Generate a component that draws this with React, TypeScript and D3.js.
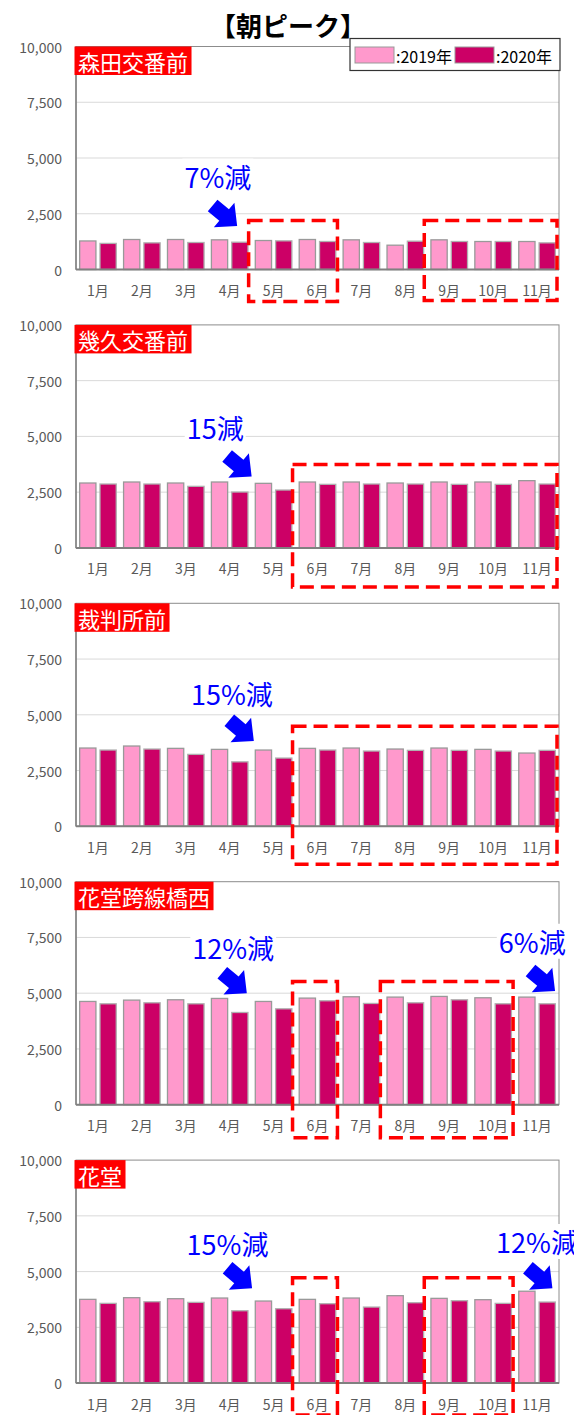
import React, { useEffect, useRef } from "react";
import * as d3 from "d3";

const months = ["1月", "2月", "3月", "4月", "5月", "6月", "7月", "8月", "9月", "10月", "11月"];
const seriesNames = ["2019年", "2020年"];
const yTicks = [0, 2500, 5000, 7500, 10000];
const stations = ["森田交番前", "幾久交番前", "裁判所前", "花堂跨線橋西", "花堂"];

const morita2019 = [1280, 1345, 1345, 1330, 1300, 1345, 1330, 1090, 1330, 1255, 1255];
const morita2020 = [1170, 1195, 1210, 1225, 1285, 1255, 1210, 1270, 1255, 1255, 1195];
const ikuhisa2019 = [2910, 2955, 2910, 2955, 2895, 2955, 2955, 2910, 2955, 2955, 3015];
const ikuhisa2020 = [2865, 2865, 2760, 2505, 2595, 2850, 2865, 2865, 2850, 2850, 2865];
const saibansho2019 = [3510, 3600, 3495, 3450, 3420, 3495, 3510, 3465, 3510, 3450, 3285];
const saibansho2020 = [3420, 3465, 3225, 2890, 3060, 3420, 3375, 3405, 3405, 3375, 3405];
const hanadoWest2019 = [4630, 4690, 4705, 4765, 4630, 4780, 4840, 4825, 4855, 4795, 4825];
const hanadoWest2020 = [4525, 4570, 4525, 4135, 4300, 4660, 4540, 4570, 4705, 4525, 4525];
const hanado2019 = [3755, 3830, 3785, 3815, 3680, 3755, 3815, 3920, 3800, 3740, 4120];
const hanado2020 = [3575, 3650, 3620, 3245, 3335, 3560, 3410, 3605, 3695, 3575, 3635];

const values2019 = [morita2019, ikuhisa2019, saibansho2019, hanadoWest2019, hanado2019];
const values2020 = [morita2020, ikuhisa2020, saibansho2020, hanadoWest2020, hanado2020];

// annotations: callout texts, arrows (tip at fractional month position / value), dashed boxes
const callouts = [
  [{ text: "7%減", at: 3.23, v: 4190 }],
  [{ text: "15減", at: 3.17, v: 5400 }],
  [{ text: "15%減", at: 3.55, v: 5950 }],
  [{ text: "12%減", at: 3.58, v: 7060 }, { text: "6%減", at: 10.39, v: 7330 }],
  [{ text: "15%減", at: 3.45, v: 6260 }, { text: "12%減", at: 10.5, v: 6350 }],
];
const arrows = [
  [{ at: 3.67, v: 1950 }],
  [{ at: 4.0, v: 3200 }],
  [{ at: 4.05, v: 3830 }],
  [{ at: 3.89, v: 5000 }, { at: 10.91, v: 5100 }],
  [{ at: 4.01, v: 4250 }, { at: 10.85, v: 4250 }],
];
const boxes = [
  [{ from: "5月", to: "6月", top: 2200, below: 32 }, { from: "9月", to: "11月", top: 2200, below: 31 }],
  [{ from: "6月", to: "11月", top: 3740, below: 39 }],
  [{ from: "6月", to: "11月", top: 4490, below: 38 }],
  [{ from: "6月", to: "6月", top: 5520, below: 33 }, { from: "8月", to: "10月", top: 5520, below: 33 }],
  [{ from: "6月", to: "6月", top: 4720, below: 32 }, { from: "9月", to: "10月", top: 4720, below: 32 }],
];

const FONT = "'Noto Sans CJK JP', 'Noto Sans', sans-serif";
const W = 574;
const H = 1415;
const LEFT = 76;
const RIGHT = 559;
const PANEL_TOP0 = 46.5;
const PANEL_STEP = 278.4;
const PANEL_H = 223;
const COLORS = ["#FF99CC", "#CC0066"];

export default function App() {
  const ref = useRef<SVGSVGElement | null>(null);

  useEffect(() => {
    const svg = d3.select(ref.current);
    svg.selectAll("*").remove();
    svg.append("rect").attr("width", W).attr("height", H).attr("fill", "#fff");

    const x = d3.scaleBand<string>().domain(months).range([LEFT, RIGHT]).padding(0);
    const xs = d3
      .scaleBand<string>()
      .domain(seriesNames)
      .range([0, x.bandwidth()])
      .paddingInner(0.2)
      .paddingOuter(0.18);
    const pos = d3.scaleLinear().domain([0, months.length]).range([LEFT, RIGHT]);

    stations.forEach((name, i) => {
      const top = PANEL_TOP0 + PANEL_STEP * i;
      const bottom = top + PANEL_H;
      const y = d3.scaleLinear().domain([0, 10000]).range([bottom, top]);
      const g = svg.append("g");

      // gridlines
      g.selectAll("line.grid")
        .data(yTicks.filter((t) => t > 0 && t < 10000))
        .join("line")
        .attr("x1", LEFT)
        .attr("x2", RIGHT)
        .attr("y1", (d) => y(d))
        .attr("y2", (d) => y(d))
        .attr("stroke", "#d9d9d9")
        .attr("stroke-width", 1);

      // plot border
      g.append("rect")
        .attr("x", LEFT)
        .attr("y", top)
        .attr("width", RIGHT - LEFT)
        .attr("height", PANEL_H)
        .attr("fill", "none")
        .attr("stroke", "#8c8c8c")
        .attr("stroke-width", 1);

      // bars
      const rows = months.map((m, k) => ({ m, vals: [values2019[i][k], values2020[i][k]] }));
      rows.forEach((r) => {
        r.vals.forEach((v, s) => {
          g.append("rect")
            .attr("x", (x(r.m) as number) + (xs(seriesNames[s]) as number))
            .attr("y", y(v))
            .attr("width", xs.bandwidth())
            .attr("height", bottom - y(v))
            .attr("fill", COLORS[s])
            .attr("stroke", s === 0 ? "#999" : "#b0b0b0")
            .attr("stroke-width", 1.3);
        });
      });

      // axes lines
      g.append("line")
        .attr("x1", LEFT)
        .attr("x2", LEFT)
        .attr("y1", top)
        .attr("y2", bottom)
        .attr("stroke", "#808080")
        .attr("stroke-width", 1.5);
      g.append("line")
        .attr("x1", LEFT)
        .attr("x2", RIGHT)
        .attr("y1", bottom)
        .attr("y2", bottom)
        .attr("stroke", "#808080")
        .attr("stroke-width", 2);

      // y tick labels
      const fmt = d3.format(",");
      g.selectAll("text.yt")
        .data(yTicks)
        .join("text")
        .attr("x", 62)
        .attr("y", (d) => y(d))
        .attr("text-anchor", "end")
        .attr("dominant-baseline", "central")
        .attr("font-family", FONT)
        .attr("font-size", 14)
        .attr("fill", "#595959")
        .text((d) => fmt(d));

      // month labels
      g.selectAll("text.xt")
        .data(months)
        .join("text")
        .attr("x", (d) => (x(d) as number) + x.bandwidth() / 2)
        .attr("y", bottom + 20.5)
        .attr("text-anchor", "middle")
        .attr("dominant-baseline", "central")
        .attr("font-family", FONT)
        .attr("font-size", 14)
        .attr("fill", "#595959")
        .text((d) => d);

      // station label
      const lbl = g.append("g");
      const lr = lbl.append("rect").attr("fill", "#FF0000");
      const lt = lbl
        .append("text")
        .attr("x", LEFT + 2)
        .attr("y", top + 14.5)
        .attr("dominant-baseline", "central")
        .attr("font-family", FONT)
        .attr("font-size", 22)
        .attr("fill", "#fff")
        .text(name);
      const lb = (lt.node() as SVGTextElement).getBBox();
      lr.attr("x", LEFT - 1.5)
        .attr("y", top)
        .attr("width", lb.width + 7)
        .attr("height", 28.5);

      // callouts
      callouts[i].forEach((c) => {
        const cg = g.append("g");
        const bg = cg.append("rect").attr("fill", "#fff");
        const t = cg
          .append("text")
          .attr("x", pos(c.at))
          .attr("y", y(c.v))
          .attr("text-anchor", "middle")
          .attr("dominant-baseline", "central")
          .attr("font-family", FONT)
          .attr("font-size", 27)
          .attr("fill", "#0000FF")
          .text(c.text);
        const b = (t.node() as SVGTextElement).getBBox();
        bg.attr("x", b.x - 2)
          .attr("y", b.y + 2)
          .attr("width", b.width + 4)
          .attr("height", b.height - 4);
      });

      // arrows
      const arrowPts: [number, number][] = [
        [0, 0],
        [-17, 16],
        [-17, 7.5],
        [-32, 7.5],
        [-32, -7.5],
        [-17, -7.5],
        [-17, -16],
      ];
      arrows[i].forEach((a) => {
        g.append("path")
          .attr("d", (d3.line()(arrowPts) as string) + "Z")
          .attr("transform", `translate(${pos(a.at)},${y(a.v)}) rotate(40)`)
          .attr("fill", "#0000FF");
      });

      // dashed boxes
      boxes[i].forEach((bx) => {
        const x0 = (x(bx.from) as number) - 3;
        const x1 = (x(bx.to) as number) + x.bandwidth() - 2;
        const y0 = y(bx.top);
        const y1 = bottom + bx.below;
        g.append("rect")
          .attr("x", x0)
          .attr("y", y0)
          .attr("width", x1 - x0)
          .attr("height", y1 - y0)
          .attr("fill", "none")
          .attr("stroke", "#FF0000")
          .attr("stroke-width", 3.5)
          .attr("stroke-dasharray", "14,7");
      });
    });

    // legend
    const lg = svg.append("g");
    lg.append("rect")
      .attr("x", 350)
      .attr("y", 38.5)
      .attr("width", 210)
      .attr("height", 32)
      .attr("fill", "#fff")
      .attr("stroke", "#333")
      .attr("stroke-width", 1.2);
    const legX = [355, 455];
    seriesNames.forEach((s, k) => {
      lg.append("rect")
        .attr("x", legX[k])
        .attr("y", 47)
        .attr("width", 39)
        .attr("height", 16)
        .attr("fill", COLORS[k])
        .attr("stroke", "#999")
        .attr("stroke-width", 1);
      lg.append("text")
        .attr("x", legX[k] + 41)
        .attr("y", 55.5)
        .attr("dominant-baseline", "central")
        .attr("font-family", FONT)
        .attr("font-size", 16)
        .attr("fill", "#000")
        .text(":" + s);
    });

    // title
    svg
      .append("text")
      .attr("x", 288)
      .attr("y", 24)
      .attr("text-anchor", "middle")
      .attr("dominant-baseline", "central")
      .attr("font-family", FONT)
      .attr("font-size", 26)
      .attr("font-weight", 700)
      .attr("fill", "#000")
      .text("【朝ピーク】");
  }, []);

  return (
    <svg
      ref={ref}
      width={W}
      height={H}
      style={{ position: "absolute", left: 0, top: 0, display: "block" }}
    />
  );
}
